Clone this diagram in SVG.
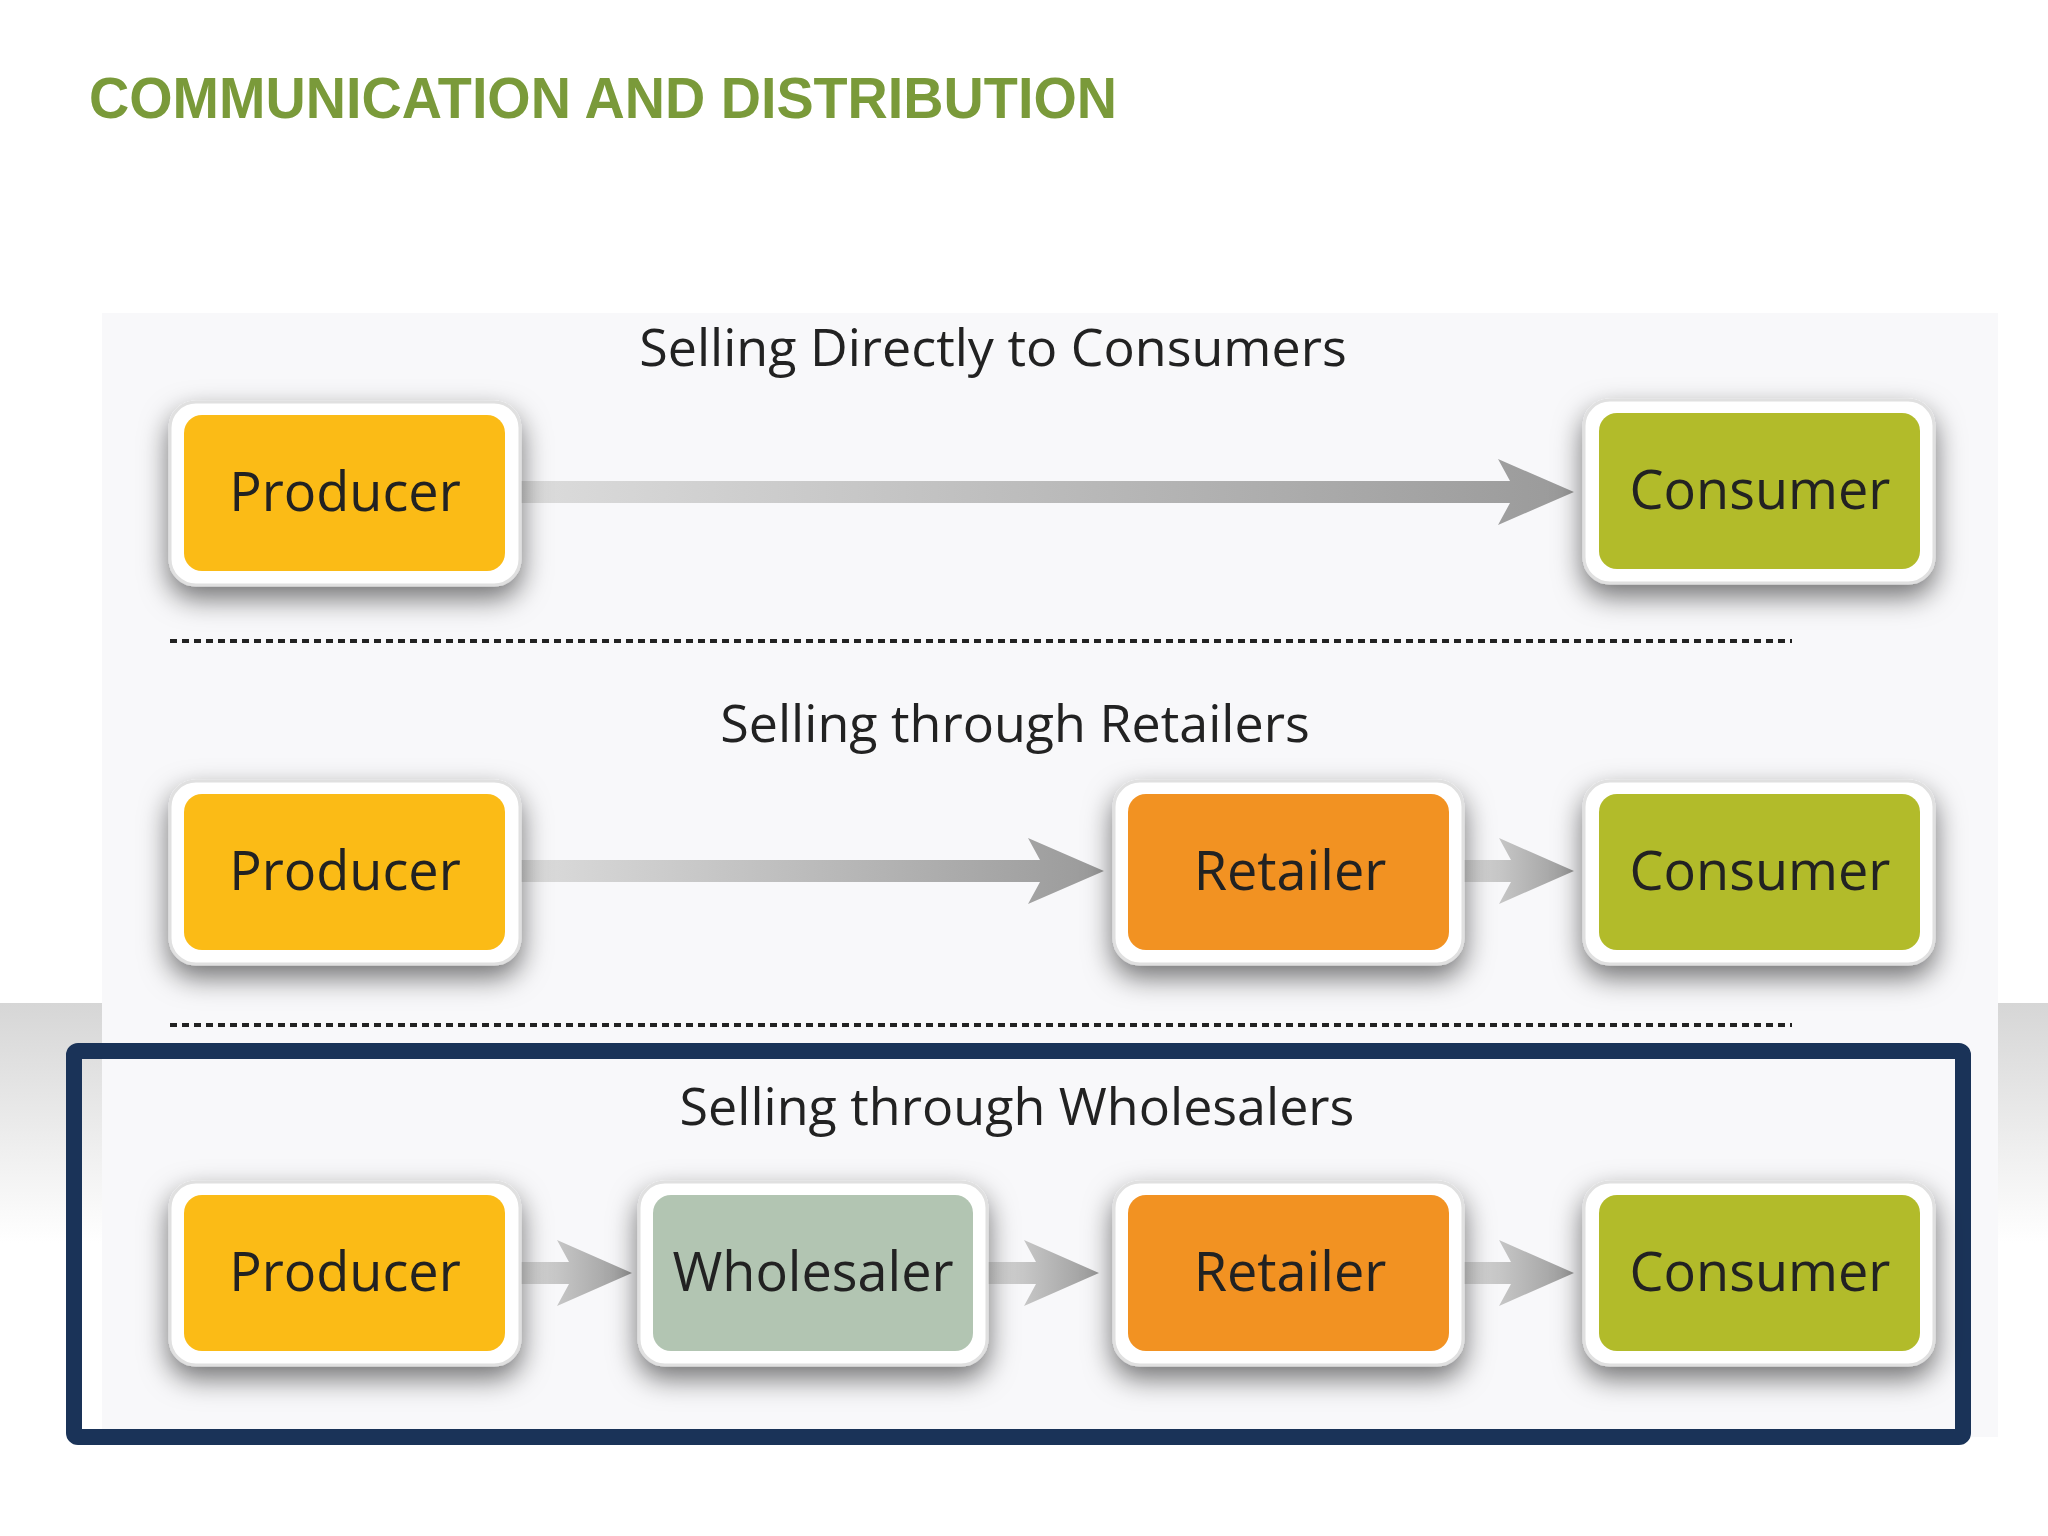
<svg xmlns="http://www.w3.org/2000/svg" width="2048" height="1536" viewBox="0 0 2048 1536">
<defs>
<linearGradient id="sh" x1="0" x2="1"><stop offset="0" stop-color="#dcdcdc"/><stop offset="1" stop-color="#9a9a9a"/></linearGradient>
<linearGradient id="side" x1="0" y1="0" x2="0" y2="1"><stop offset="0" stop-color="#d6d6d6"/><stop offset="1" stop-color="#ffffff"/></linearGradient>
<filter id="ds" x="-25%" y="-30%" width="150%" height="170%"><feDropShadow dx="0" dy="12" stdDeviation="14" flood-color="#000" flood-opacity="0.55"/></filter>
</defs>
<style>
.t{font-family:"Open Sans","Liberation Sans",sans-serif;font-size:52px;fill:#222;text-anchor:middle}
.n{font-family:"Open Sans","Liberation Sans",sans-serif;font-size:54px;fill:#222;text-anchor:middle}
.o{fill:#fff;stroke:#e0e0e0;stroke-width:3;filter:url(#ds)}
.dash{stroke:#222;stroke-width:4;stroke-dasharray:7 5}
</style>
<rect width="2048" height="1536" fill="#fff"/>
<rect x="0" y="1003" width="102" height="240" fill="url(#side)"/>
<rect x="1998" y="1003" width="50" height="240" fill="url(#side)"/>
<rect x="102" y="313" width="1896" height="1124" fill="#f8f8fa"/>
<text x="89" y="118" font-family="Liberation Sans,sans-serif" font-weight="bold" font-size="58" fill="#7a9a3a" textLength="1028" lengthAdjust="spacingAndGlyphs">COMMUNICATION AND DISTRIBUTION</text>
<text class="t" x="993" y="366">Selling Directly to Consumers</text>
<text class="t" x="1015" y="742">Selling through Retailers</text>
<text class="t" x="1017" y="1125">Selling through Wholesalers</text>
<line class="dash" x1="170" y1="641" x2="1792" y2="641"/>
<line class="dash" x1="170" y1="1025" x2="1792" y2="1025"/>
<rect x="74" y="1051" width="1889" height="386" fill="none" stroke="#1a3358" stroke-width="16" rx="4"/>
<g id="connectors" fill="url(#sh)">
<path d="M520 481h990l-12-22 76 33-76 33 12-22h-990z"/>
<path d="M520 860h520l-12-22 76 33-76 33 12-22h-520z"/>
<path d="M1463 860h48l-12-22 75 33-75 33 12-22h-48z"/>
<path d="M520 1262h49l-12-22 75 33-75 33 12-22h-49z"/>
<path d="M987 1262h49l-12-22 75 33-75 33 12-22h-49z"/>
<path d="M1463 1262h48l-12-22 75 33-75 33 12-22h-48z"/>
</g>
<g id="n1"><rect class="o" x="170" y="402" width="350" height="183" rx="26"/><rect x="184" y="415" width="321" height="156" rx="18" fill="#fbbb16"/><text class="n" x="345" y="511">Producer</text></g>
<g id="n2"><rect class="o" x="1584" y="400" width="350" height="183" rx="26"/><rect x="1599" y="413" width="321" height="156" rx="18" fill="#b2bb2a"/><text class="n" x="1760" y="509">Consumer</text></g>
<g id="n3"><rect class="o" x="170" y="781" width="350" height="183" rx="26"/><rect x="184" y="794" width="321" height="156" rx="18" fill="#fbbb16"/><text class="n" x="345" y="890">Producer</text></g>
<g id="n4"><rect class="o" x="1114" y="781" width="349" height="183" rx="26"/><rect x="1128" y="794" width="321" height="156" rx="18" fill="#f29222"/><text class="n" x="1290" y="890">Retailer</text></g>
<g id="n5"><rect class="o" x="1584" y="781" width="350" height="183" rx="26"/><rect x="1599" y="794" width="321" height="156" rx="18" fill="#b2bb2a"/><text class="n" x="1760" y="890">Consumer</text></g>
<g id="n6"><rect class="o" x="170" y="1182" width="350" height="183" rx="26"/><rect x="184" y="1195" width="321" height="156" rx="18" fill="#fbbb16"/><text class="n" x="345" y="1291">Producer</text></g>
<g id="n7"><rect class="o" x="639" y="1182" width="348" height="183" rx="26"/><rect x="653" y="1195" width="320" height="156" rx="18" fill="#b2c5b2"/><text class="n" x="813" y="1291">Wholesaler</text></g>
<g id="n8"><rect class="o" x="1114" y="1182" width="349" height="183" rx="26"/><rect x="1128" y="1195" width="321" height="156" rx="18" fill="#f29222"/><text class="n" x="1290" y="1291">Retailer</text></g>
<g id="n9"><rect class="o" x="1584" y="1182" width="350" height="183" rx="26"/><rect x="1599" y="1195" width="321" height="156" rx="18" fill="#b2bb2a"/><text class="n" x="1760" y="1291">Consumer</text></g>
</svg>
